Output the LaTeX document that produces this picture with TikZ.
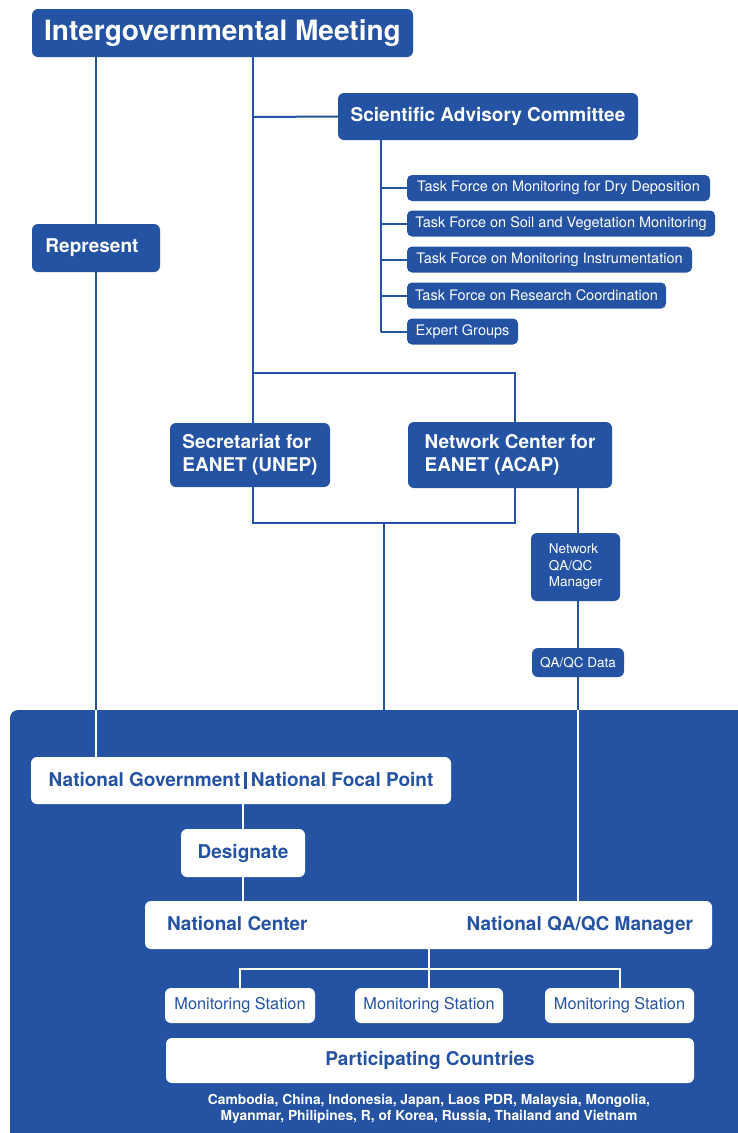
\documentclass[tikz,border=0pt]{standalone}
\usepackage{fontspec}
\setmainfont{TeX Gyre Heros}
\definecolor{eb}{HTML}{2553A3}
\newcommand\fsz[2]{\fontsize{#1}{#2}\selectfont}
\tikzset{
  bbox/.style={fill=eb, text=white, rounded corners=6pt, inner sep=0pt, align=center, font=\bfseries\fsz{19}{23}},
  wbox/.style={fill=white, text=eb, rounded corners=6pt, inner sep=0pt, align=center, font=\bfseries\fsz{19}{23}},
  tfbox/.style={fill=eb, text=white, rounded corners=5pt, inner sep=0pt, minimum height=26pt, font=\fsz{14.5}{17}},
  stbox/.style={fill=white, text=eb, rounded corners=6pt, inner sep=0pt, minimum height=35pt, font=\fsz{16.3}{19}},
  bl/.style={draw=eb, line width=2pt},
  wl/.style={draw=white, line width=2pt},
}
\begin{document}
\begin{tikzpicture}[x=1pt,y=-1pt]
\useasboundingbox (0,0) rectangle (738,1133);
% panel
\fill[eb] (10,1133) -- (10,718) arc[start angle=180,end angle=270,radius=8] -- (738,710) -- (738,1133) -- cycle;

% nodes
\node[bbox, minimum width=381pt, minimum height=48pt, font=\bfseries\fsz{28}{31}] (igm) at (222.5,33) {Intergovernmental Meeting};
\node[bbox, minimum width=300pt, minimum height=47pt] (sac) at (488,116.5) {Scientific Advisory Committee};
\node[tfbox, minimum width=303pt] (tf1) at (558.5,188) {Task Force on Monitoring for Dry Deposition};
\node[tfbox, minimum width=308pt] (tf2) at (561,223.5) {Task Force on Soil and Vegetation Monitoring};
\node[tfbox, minimum width=285pt] (tf3) at (549.5,259.5) {Task Force on Monitoring Instrumentation};
\node[tfbox, minimum width=259pt] (tf4) at (536.5,295.5) {Task Force on Research Coordination};
\node[tfbox, minimum width=111pt] (tf5) at (462.5,331.5) {Expert Groups};
\node[bbox, minimum width=128pt, minimum height=48pt] (rep) at (96,248) {\hspace*{-8pt}Represent};
\node[bbox, minimum width=160pt, minimum height=64pt, align=left] (sec) at (250,455) {Secretariat for\\EANET (UNEP)};
\node[bbox, minimum width=204pt, minimum height=66pt, align=left] (ncn) at (510,455) {Network Center for\\EANET (ACAP)};
\node[bbox, minimum width=89pt, minimum height=68pt, align=left, font=\fsz{13.5}{16.5}] (qm) at (575.5,567) {Network\\QA/QC\\Manager};
\node[bbox, minimum width=92pt, minimum height=29pt, font=\fsz{13.5}{16.5}] (qd) at (578,662.5) {QA/QC Data};

\node[wbox, minimum width=420pt, minimum height=47pt] (ng) at (241,780.5) {National Government\hspace{4pt}\rule[-3pt]{2.6pt}{17pt}\hspace{4pt}National Focal Point};
\node[wbox, minimum width=124pt, minimum height=48pt] (des) at (243,853) {Designate};
\node[wbox, minimum width=567pt, minimum height=48pt] (nc) at (428.5,925) {\hspace*{3pt}\makebox[526pt]{National Center\hfill National QA/QC Manager}};
\node[stbox, minimum width=150pt] (st1) at (240,1005.5) {Monitoring Station};
\node[stbox, minimum width=148pt] (st2) at (429,1005.5) {Monitoring Station};
\node[stbox, minimum width=149pt] (st3) at (619.5,1005.5) {Monitoring Station};
\node[wbox, minimum width=528pt, minimum height=45pt] (pc) at (430,1060.5) {Participating Countries};
\node[text=white, align=center, inner sep=0pt, font=\bfseries\fsz{13.8}{16.5}] (cty) at (429,1109) {Cambodia, China, Indonesia, Japan, Laos PDR, Malaysia, Mongolia,\\Myanmar, Philipines, R, of Korea, Russia, Thailand and Vietnam};

% coordinates
\coordinate (a) at (253,117);
\coordinate (b) at (253,373);
\coordinate (bR) at (515,373);
\coordinate (s) at (381,140);
\coordinate (cL) at (253,523);
\coordinate (cR) at (515,523);
\coordinate (cM) at (384,523);
\coordinate (cP) at (384,710);
\coordinate (p1) at (96,710);
\coordinate (q) at (578,710);
\coordinate (m) at (429,969);

% blue connectors
\draw[bl] (igm.south -| rep.north) -- (rep.north);
\draw[bl] (rep.south) -- (p1);
\draw[bl] (igm.south -| a) -- (sec.north -| a);
\draw[bl] (a) -- (sac.west);
\draw[bl] (sac.south -| s) -- (tf5.west -| s);
\foreach \t in {tf1,tf2,tf3,tf4,tf5} \draw[bl] (\t.west -| s) -- (\t.west);
\draw[bl] (b) -- (bR) -- (ncn.north -| bR);
\draw[bl] (sec.south -| cL) -- (cL) -- (cR) -- (ncn.south -| cR);
\draw[bl] (cM) -- (cP);
\draw[bl] (ncn.south -| q) -- (qm.north -| q);
\draw[bl] (qm.south -| q) -- (qd.north -| q);
\draw[bl] (qd.south -| q) -- (q);

% white connectors
\draw[wl] (p1) -- (ng.north -| p1);
\draw[wl] (ng.south -| des) -- (des.north);
\draw[wl] (des.south) -- (nc.north -| des);
\draw[wl] (q) -- (nc.north -| q);
\draw[wl] (nc.south -| m) -- (st2.north);
\draw[wl] (st1.north) |- (m) -| (st3.north);
\end{tikzpicture}
\end{document}
